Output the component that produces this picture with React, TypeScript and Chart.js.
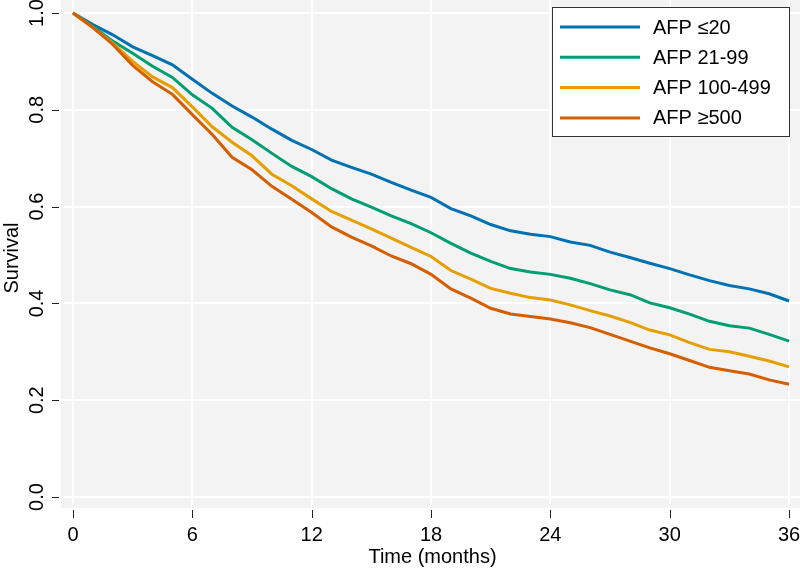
import React, { useEffect, useRef } from "react";
import { Chart, registerables } from "chart.js";

Chart.register(...registerables);

const months = [0, 1, 2, 3, 4, 5, 6, 7, 8, 9, 10, 11, 12, 13, 14, 15, 16, 17, 18, 19, 20, 21, 22, 23, 24, 25, 26, 27, 28, 29, 30, 31, 32, 33, 34, 35, 36];

const afpLe20 = [1.0, 0.976, 0.955, 0.93, 0.912, 0.893, 0.863, 0.834, 0.808, 0.785, 0.76, 0.737, 0.718, 0.696, 0.681, 0.667, 0.65, 0.634, 0.619, 0.596, 0.581, 0.563, 0.55, 0.543, 0.538, 0.527, 0.52, 0.506, 0.495, 0.483, 0.472, 0.459, 0.447, 0.437, 0.43, 0.42, 0.405];
const afp21to99 = [1.0, 0.972, 0.942, 0.917, 0.89, 0.867, 0.831, 0.803, 0.764, 0.738, 0.71, 0.683, 0.662, 0.637, 0.616, 0.599, 0.581, 0.565, 0.546, 0.524, 0.504, 0.487, 0.472, 0.465, 0.46, 0.452, 0.441, 0.428, 0.418, 0.401, 0.391, 0.378, 0.363, 0.354, 0.349, 0.336, 0.322];
const afp100to499 = [1.0, 0.97, 0.938, 0.9, 0.868, 0.846, 0.806, 0.765, 0.733, 0.705, 0.667, 0.643, 0.616, 0.59, 0.572, 0.554, 0.535, 0.516, 0.497, 0.468, 0.45, 0.431, 0.421, 0.412, 0.407, 0.397, 0.385, 0.374, 0.361, 0.345, 0.335, 0.319, 0.305, 0.3, 0.291, 0.281, 0.269];
const afpGe500 = [1.0, 0.97, 0.935, 0.892, 0.858, 0.832, 0.79, 0.749, 0.702, 0.676, 0.642, 0.615, 0.588, 0.558, 0.537, 0.519, 0.498, 0.482, 0.46, 0.43, 0.411, 0.39, 0.378, 0.373, 0.368, 0.36, 0.35, 0.336, 0.322, 0.308, 0.296, 0.282, 0.268, 0.261, 0.254, 0.242, 0.233];

const seriesLabels = ["AFP \u226420", "AFP 21-99", "AFP 100-499", "AFP \u2265500"];
const seriesColors = ["#0072B2", "#009E73", "#E69F00", "#D55E00"];
const xTicks = [0, 6, 12, 18, 24, 30, 36];
const yTicks = [0.0, 0.2, 0.4, 0.6, 0.8, 1.0];
const yTickLabels = ["0.0", "0.2", "0.4", "0.6", "0.8", "1.0"];
const xTitle = "Time (months)";
const yTitle = "Survival";

const FONT = "'Liberation Sans', Arial, Helvetica, sans-serif";

export default function App() {
  const ref = useRef<HTMLCanvasElement | null>(null);

  useEffect(() => {
    document.body.style.margin = "0";
    const canvas = ref.current;
    if (!canvas) return;
    const all = [afpLe20, afp21to99, afp100to499, afpGe500];

    const decor = {
      id: "decor",
      beforeDraw(chart: any) {
        const { ctx, chartArea } = chart;
        ctx.save();
        ctx.fillStyle = "#ffffff";
        ctx.fillRect(0, 0, chart.width, chart.height);
        ctx.fillStyle = "#f3f3f3";
        ctx.fillRect(chartArea.left, chartArea.top, chartArea.right - chartArea.left, chartArea.bottom - chartArea.top);
        ctx.restore();
      },
      afterDraw(chart: any) {
        const { ctx, chartArea } = chart;
        const xs = chart.scales.x;
        const ys = chart.scales.y;
        ctx.save();
        ctx.fillStyle = "#000000";
        ctx.strokeStyle = "#222222";
        ctx.lineWidth = 1;
        // y ticks
        ctx.font = `20px ${FONT}`;
        yTicks.forEach((v, i) => {
          const py = Math.round(ys.getPixelForValue(v)) + 0.5;
          ctx.beginPath();
          ctx.moveTo(chartArea.left - 9, py);
          ctx.lineTo(chartArea.left - 2, py);
          ctx.stroke();
          ctx.save();
          ctx.translate(chartArea.left - 18, ys.getPixelForValue(v));
          ctx.rotate(-Math.PI / 2);
          ctx.textAlign = "center";
          ctx.textBaseline = "alphabetic";
          ctx.fillText(yTickLabels[i], 0, 0);
          ctx.restore();
        });
        // x ticks
        xTicks.forEach((v) => {
          const px = Math.round(xs.getPixelForValue(v)) + 0.5;
          ctx.beginPath();
          ctx.moveTo(px, chartArea.bottom + 2);
          ctx.lineTo(px, chartArea.bottom + 10);
          ctx.stroke();
          ctx.textAlign = "center";
          ctx.textBaseline = "alphabetic";
          ctx.fillText(String(v), xs.getPixelForValue(v), chartArea.bottom + 33);
        });
        // axis titles
        ctx.textAlign = "center";
        ctx.fillText(xTitle, (chartArea.left + chartArea.right) / 2 + 2, chartArea.bottom + 55);
        ctx.save();
        ctx.translate(18, 258);
        ctx.rotate(-Math.PI / 2);
        ctx.fillText(yTitle, 0, 0);
        ctx.restore();

        // legend
        const lx = 552.5, ly = 7.5, lw = 237, lh = 129;
        ctx.fillStyle = "#ffffff";
        ctx.fillRect(lx, ly, lw, lh);
        ctx.strokeStyle = "#333333";
        ctx.lineWidth = 1;
        ctx.strokeRect(lx, ly, lw, lh);
        seriesLabels.forEach((lab, i) => {
          const ry = 27 + i * 30.3;
          ctx.strokeStyle = seriesColors[i];
          ctx.lineWidth = 3;
          ctx.beginPath();
          ctx.moveTo(560, ry);
          ctx.lineTo(640, ry);
          ctx.stroke();
          ctx.fillStyle = "#000000";
          ctx.textAlign = "left";
          ctx.textBaseline = "middle";
          ctx.fillText(lab, 653, ry + 1);
        });
        ctx.restore();
      },
    };

    const chart = new Chart(canvas, {
      type: "line",
      data: {
        datasets: all.map((vals, i) => ({
          label: seriesLabels[i],
          data: months.map((m, j) => ({ x: m, y: vals[j] })),
          borderColor: seriesColors[i],
          backgroundColor: seriesColors[i],
          borderWidth: 3,
          pointRadius: 0,
          tension: 0,
          fill: false,
          order: 3 - i,
        })),
      },
      options: {
        animation: false,
        responsive: false,
        devicePixelRatio: 1,
        layout: { padding: 0 },
        plugins: { legend: { display: false }, tooltip: { enabled: false }, title: { display: false } },
        scales: {
          x: {
            type: "linear",
            min: -0.603,
            max: 36.55,
            afterBuildTicks: (s: any) => {
              s.ticks = xTicks.map((v) => ({ value: v }));
            },
            afterFit: (s: any) => {
              s.height = 61;
            },
            ticks: { display: false },
            grid: { color: "#ffffff", lineWidth: 2, drawTicks: false },
            border: { display: false },
          },
          y: {
            type: "linear",
            min: -0.0227,
            max: 1.0269,
            afterBuildTicks: (s: any) => {
              s.ticks = yTicks.map((v) => ({ value: v }));
            },
            afterFit: (s: any) => {
              s.width = 61;
            },
            ticks: { display: false },
            grid: { color: "#ffffff", lineWidth: 2, drawTicks: false },
            border: { display: false },
          },
        },
      },
      plugins: [decor],
    });
    return () => chart.destroy();
  }, []);

  return (
    <div style={{ position: "absolute", left: 0, top: 0, width: 800, height: 569 }}>
      <canvas ref={ref} width={800} height={569} style={{ width: 800, height: 569, display: "block" }} />
    </div>
  );
}
